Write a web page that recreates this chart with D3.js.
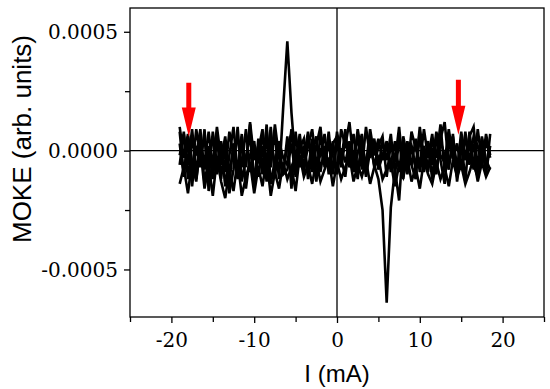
<!DOCTYPE html>
<html><head><meta charset="utf-8">
<script src="https://cdn.jsdelivr.net/npm/d3@7"></script>
<style>body{margin:0;background:#fff}svg{display:block}</style>
</head><body>
<script>
// current values (mA)
const currents = [-19,-18.5,-18,-17.5,-17,-16.5,-16,-15.5,-15,-14.5,-14,-13.5,-13,-12.5,-12,-11.5,-11,-10.5,-10,-9.5,
  -9,-8.5,-8,-7.5,-7,-6.5,-6,-5.5,-5,-4.5,-4,-3.5,-3,-2.5,-2,-1.5,-1,-0.5,0,0.5,
  1,1.5,2,2.5,3,3.5,4,4.5,5,5.5,6,6.5,7,7.5,8,8.5,9,9.5,10,10.5,
  11,11.5,12,12.5,13,13.5,14,14.5,15,15.5,16,16.5,17,17.5,18,18.5];
// MOKE signal in units of 1e-5 (arb. units)
const sweepA = [-6,8,-12,4,-2,9,-14,-3,6,-10, 3,-15,-2,10,-9,2,-6,11,-13,0, 9,-8,-1,6,-12,18,46,16,-6,4,
  -9,6,-3,-12,7,-4,3,-9,8,-3, -11,4,-6,9,-2,-10,5,-7,2,6, -11,3,-5,10,-8,4,-6,-12,7,-2, -9,5,-3,11,-9,1,6,-7,4,-4, 3,-8,9,-5,4,-3];
const sweepB = [8,-10,5,-15,2,-7,9,-17,-4,6, -12,4,-18,-8,10,-13,-3,7,-15,5, -8,11,-14,-4,3,-10,6,-16,8,-7,
  2,-9,5,-13,1,-6,8,-10,4,-5, 9,-7,-2,-12,6,-8,3,-6,-12,-25, -64,-24,-8,-21,4,-10,2,-7,8,-9, 3,-12,6,-4,-14,7,-3,-10,5,-13, 8,-6,-11,3,-9,2];
const sweepC = [10,-3,7,-9,9,-2,5,-11,8,-6, 4,-9,8,-2,-12,6,-7,12,-4,2, -10,5,-7,11,-3,-9,2,7,-8,5,
  -3,8,-9,2,10,-7,5,-2,-8,9, 2,12,-4,6,-8,10,-3,2,-7,4, -4,7,-10,4,-2,-8,8,1,-6,9, -3,7,-9,5,12,-6,2,-9,8,-3, 6,10,-7,5,-10,7];
const sweepD = [-14,-7,-18,-4,-12,1,-16,-6,-19,-3, -13,-20,-8,-17,-4,-19,-11,-5,-18,-7, -15,-3,-19,-9,-16,-5,-12,-7,-17,-2,
  -11,-6,-14,-4,-13,-8,-3,-15,-5,-12, -7,-2,-13,-6,-11,-4,-14,-7,-3,-12, -8,-5,-15,-6,-11,-3,-13,-7,-16,-4, -10,-14,-5,-12,-7,-15,-4,-11,-6,-14, -9,-3,-13,-5,-11,-7];
const sweepE = [3,-11,6,-5,-13,4,-8,2,-12,5, -6,-1,-14,3,-9,7,-16,-2,4,-11, 2,-13,5,-6,-1,-10,-8,3,-11,1,
  5,-12,-1,6,-9,2,-7,4,-10,1, -5,3,-9,-1,7,-11,0,5,-8,-2, 4,-9,-2,6,-12,1,-6,5,-9,2, -7,1,-10,4,-2,-8,7,-13,0,5, -6,3,-10,6,-4,-8];
const sweepF = [-2,7,-6,9,-9,3,-5,8,-7,10, -4,6,-10,2,5,-7,9,-9,1,-4, 6,-5,10,-11,4,-3,-6,9,-4,7,
  -8,2,9,-5,-2,7,-10,3,6,-7, 4,-3,7,-8,1,-6,9,-2,5,-4, 2,-6,4,-9,6,-3,2,-8,10,-5, 4,-6,8,-2,-5,9,-3,3,-8,8, -5,6,2,-7,7,-2];
const sweeps = [sweepD, sweepE, sweepF, sweepC, sweepB, sweepA];
const xTicks = [-20,-10,0,10,20];
const xTickLabels = ["-20","-10","0","10","20"];
const xMinor = [-25,-15,-5,5,15,25];
const yTicks = [0.0005,0,-0.0005];
const yTickLabels = ["0.0005","0.0000","-0.0005"];
const yMinor = [0.00025,-0.00025];
const arrows = [{x:-17.9, top:0.000286, tip:0.000059},{x:14.66, top:0.000298, tip:0.000067}];

const W=550,H=389, L=130,R=544,T=8,B=317;
const svg=d3.select("body").append("svg").attr("width",W).attr("height",H);
const x=d3.scaleLinear().domain([-25,25]).range([L,R]);
const y=d3.scaleLinear().domain([-0.0007,0.0006]).range([B,T]);

// zero lines
svg.append("line").attr("x1",L).attr("x2",R).attr("y1",y(0)).attr("y2",y(0)).attr("stroke","#000").attr("stroke-width",1.3);
svg.append("line").attr("x1",x(0)).attr("x2",x(0)).attr("y1",T).attr("y2",B).attr("stroke","#000").attr("stroke-width",1.3);

const line=d3.line().x((d,i)=>x(currents[i])).y(d=>y(d*1e-5));
sweeps.forEach(s=>{
  svg.append("path").datum(s).attr("d",line).attr("fill","none").attr("stroke","#000").attr("stroke-width",2.6).attr("stroke-linejoin","miter");
});

// frame
svg.append("rect").attr("x",L).attr("y",T).attr("width",R-L).attr("height",B-T).attr("fill","none").attr("stroke","#000").attr("stroke-width",1.3);

// axes
const xAx=svg.append("g").attr("transform",`translate(0,${B})`)
  .call(d3.axisBottom(x).tickValues(xTicks).tickSize(6).tickSizeOuter(0).tickFormat((d,i)=>xTickLabels[i]));
svg.append("g").attr("transform",`translate(0,${B})`)
  .call(d3.axisBottom(x).tickValues(xMinor).tickSize(5).tickSizeOuter(0).tickFormat(""));
const yAx=svg.append("g").attr("transform",`translate(${L},0)`)
  .call(d3.axisLeft(y).tickValues(yTicks).tickSize(6).tickSizeOuter(0).tickFormat((d,i)=>yTickLabels[i]));
svg.append("g").attr("transform",`translate(${L},0)`)
  .call(d3.axisLeft(y).tickValues(yMinor).tickSize(5).tickSizeOuter(0).tickFormat(""));
svg.selectAll(".domain").remove();
svg.selectAll(".tick line").attr("stroke","#000").attr("stroke-width",1.3);
xAx.selectAll("text").attr("font-family","DejaVu Serif").attr("font-size",20).attr("fill","#000").attr("dy",null).attr("y",30);
yAx.selectAll("text").attr("font-family","DejaVu Serif").attr("font-size",20).attr("fill","#000").attr("x",-12).attr("dy","0.36em");

// titles
svg.append("text").attr("x",337).attr("y",382).attr("text-anchor","middle")
  .attr("font-family","Liberation Sans, Arial").attr("font-size",24).text("I (mA)");
svg.append("text").attr("transform",`translate(31,139) rotate(-90)`).attr("text-anchor","middle")
  .attr("font-family","Liberation Sans, Arial").attr("font-size",26).text("MOKE (arb. units)");

// red arrows
arrows.forEach(a=>{
  const cx=x(a.x), y0=y(a.top), yt=y(a.tip), hb=yt-29;
  const p=`M${cx-2.5},${y0}L${cx+2.5},${y0}L${cx+2.5},${hb}L${cx+7},${hb}L${cx},${yt}L${cx-7},${hb}L${cx-2.5},${hb}Z`;
  svg.append("path").attr("d",p).attr("fill","#ff0000");
});
</script>
</body></html>
